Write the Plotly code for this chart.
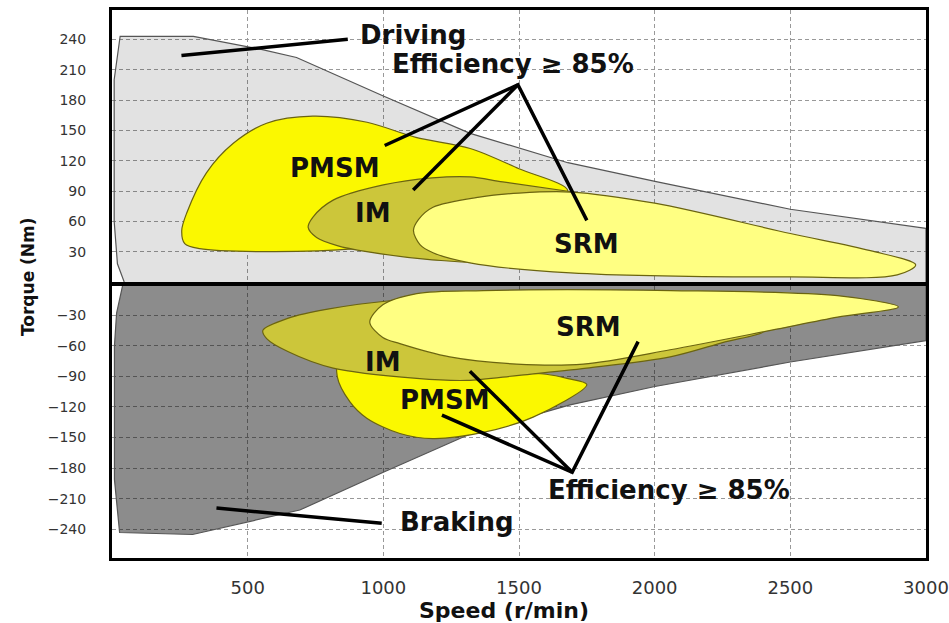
import plotly.graph_objects as go

# ---------------- data ----------------
x_ticks = [500, 1000, 1500, 2000, 2500, 3000]
y_ticks_drive = [30, 60, 90, 120, 150, 180, 210, 240]
y_ticks_brake = [-30, -60, -90, -120, -150, -180, -210, -240]

# Driving envelope (speed r/min, torque Nm)
drive_speed = [45, 20, 8, 8, 30, 300, 550, 680, 1000, 1320, 1680, 2010, 2500, 3000, 3000]
drive_torque = [0, 18, 60, 200, 243, 243, 230, 222, 184, 147, 118, 99, 72, 53, 0]

# Driving efficiency >= 85% regions
pmsm_d_speed = [1680, 1500, 1320, 1120, 940, 740, 570, 446, 348, 275, 257, 268, 323, 570, 900, 1300, 1680]
pmsm_d_torque = [90, 112, 132, 143, 158, 164, 157, 137, 108, 68, 51, 38, 33, 30, 33, 48, 90]

im_d_speed = [1700, 1440, 1320, 1180, 1000, 815, 740, 723, 754, 830, 939, 1180, 1400, 1700]
im_d_torque = [89, 99, 104, 103, 96, 81, 64, 54, 44, 36, 30, 22, 20, 40]

srm_d_speed = [2962, 2795, 2500, 2000, 1690, 1500, 1354, 1183, 1130, 1111, 1135, 1183, 1319, 1690, 2500, 2894, 2962]
srm_d_torque = [17, 31, 48, 78, 89, 88, 84, 74, 62, 51, 37, 29, 19, 9, 5, 7, 17]

# Braking envelope
brake_speed = [40, 17, 9, 9, 28, 297, 692, 1000, 1332, 1688, 2001, 2500, 3000, 3000]
brake_torque = [0, -28, -60, -191, -243, -245, -221, -184, -145, -118, -100, -76, -55, 0]

# Braking efficiency >= 85% regions
im_b_speed = [556, 650, 800, 1024, 1300, 1800, 2400, 2250, 2057, 1750, 1500, 1308, 1123, 815, 650, 570, 556]
im_b_torque = [-45, -33, -24, -16, -12, -25, -46, -57, -71, -82, -89, -94, -92, -82, -66, -53, -45]

pmsm_b_speed = [1750, 1552, 1368, 1183, 1061, 939, 877, 830, 840, 1000, 1300, 1600, 1677, 1750]
pmsm_b_torque = [-98, -130, -145, -151, -146, -131, -115, -90, -70, -75, -85, -88, -92, -98]

srm_b_speed = [2898, 2674, 2059, 1368, 1123, 998, 950, 998, 1061, 1245, 1491, 1737, 2057, 2427, 2674, 2898]
srm_b_torque = [-22, -11, -6, -6, -9, -20, -37, -52, -58, -71, -78, -78, -64, -45, -32, -22]

# Labels and leader lines
drive_labels = ["Driving", "Efficiency ≥ 85%", "PMSM", "IM", "SRM"]
drive_label_x = [1109, 1477, 821, 963, 1750]
drive_label_y = [244, 216, 113, 68, 38]
drive_leader_x = [[869, 256], [1005, 1496, 1750], [1110, 1496]]
drive_leader_y = [[240, 224], [135, 195, 61], [91, 195]]

brake_labels = ["Braking", "Efficiency ≥ 85%", "PMSM", "IM", "SRM"]
brake_label_x = [1271, 2054, 1227, 999, 1755]
brake_label_y = [-233, -201, -113, -76, -42]
brake_leader_x = [[994, 385], [1216, 1696, 1939], [1319, 1696]]
brake_leader_y = [[-234, -219], [-128, -184, -56], [-85, -184]]

# ---------------- styles ----------------
LIGHT_GRAY = "rgba(0,0,0,0.115)"
DARK_GRAY = "rgba(0,0,0,0.45)"
YELLOW = "#fbf800"
OLIVE = "#ccc63a"
PALE = "#ffff82"
EDGE = "#6b6410"
LABEL_FONT = dict(family="DejaVu Sans", size=26, color="#111111")

fig = go.Figure()


def region(xs, ys, color, xa, ya, edge=EDGE, spline=True):
    fig.add_trace(go.Scatter(
        x=xs, y=ys, mode="lines", fill="toself", fillcolor=color,
        line=dict(color=edge, width=1.2, shape="spline" if spline else "linear", smoothing=0.9),
        xaxis=xa, yaxis=ya, hoverinfo="skip", showlegend=False))


# driving panel
region(drive_speed, drive_torque, LIGHT_GRAY, "x", "y", edge="#555555", spline=False)
region(pmsm_d_speed, pmsm_d_torque, YELLOW, "x", "y")
region(im_d_speed, im_d_torque, OLIVE, "x", "y")
region(srm_d_speed, srm_d_torque, PALE, "x", "y")
# braking panel
region(brake_speed, brake_torque, DARK_GRAY, "x2", "y2", edge="#555555", spline=False)
region(pmsm_b_speed, pmsm_b_torque, YELLOW, "x2", "y2")
region(im_b_speed, im_b_torque, OLIVE, "x2", "y2")
region(srm_b_speed, srm_b_torque, PALE, "x2", "y2")

for lx, ly in zip(drive_leader_x, drive_leader_y):
    fig.add_trace(go.Scatter(x=lx, y=ly, mode="lines", line=dict(color="black", width=3.5),
                             xaxis="x", yaxis="y", hoverinfo="skip", showlegend=False))
for lx, ly in zip(brake_leader_x, brake_leader_y):
    fig.add_trace(go.Scatter(x=lx, y=ly, mode="lines", line=dict(color="black", width=3.5),
                             xaxis="x2", yaxis="y2", hoverinfo="skip", showlegend=False))

annotations = []
for t, x, y in zip(drive_labels, drive_label_x, drive_label_y):
    annotations.append(dict(text="<b>%s</b>" % t, x=x, y=y, xref="x", yref="y",
                            showarrow=False, font=LABEL_FONT, xanchor="center", yanchor="middle"))
for t, x, y in zip(brake_labels, brake_label_x, brake_label_y):
    annotations.append(dict(text="<b>%s</b>" % t, x=x, y=y, xref="x2", yref="y2",
                            showarrow=False, font=LABEL_FONT, xanchor="center", yanchor="middle"))
annotations.append(dict(text="<b>Torque (Nm)</b>", x=-0.103, y=0.513, xref="paper", yref="paper",
                        textangle=-90, showarrow=False, xanchor="center", yanchor="middle",
                        font=dict(family="DejaVu Sans", size=17, color="#111111")))
annotations.append(dict(text="<b>Speed (r/min)</b>", x=0.4816, y=-0.095, xref="paper", yref="paper",
                        showarrow=False, xanchor="center", yanchor="middle",
                        font=dict(family="DejaVu Sans", size=22, color="#111111")))

grid = dict(showgrid=True, gridcolor="#999999", griddash="4px,3px", gridwidth=1, zeroline=False,
            showline=True, linecolor="black", linewidth=3, mirror=True, ticks="", automargin=False)

fig.update_layout(
    width=949, height=623,
    margin=dict(l=112, r=23, t=10, b=65, autoexpand=False),
    paper_bgcolor="white", plot_bgcolor="white",
    showlegend=False,
    annotations=annotations,
    xaxis=dict(domain=[0, 1], anchor="y", range=[0, 3000], tickvals=x_ticks,
               showticklabels=False, **grid),
    xaxis2=dict(domain=[0, 1], anchor="y2", range=[0, 3000], tickvals=x_ticks, matches="x",
                tickfont=dict(family="DejaVu Sans", size=18, color="#333333"),
                ticklabelstandoff=11, **grid),
    yaxis=dict(domain=[0.5036, 1], anchor="x", range=[0, 269], tickvals=y_ticks_drive,
               tickfont=dict(family="DejaVu Sans", size=14, color="#333333"),
               ticklabelstandoff=20, **grid),
    yaxis2=dict(domain=[0, 0.4964], anchor="x2", range=[-268, -1.5], tickvals=y_ticks_brake,
                tickfont=dict(family="DejaVu Sans", size=14, color="#333333"),
                ticklabelstandoff=20, **grid),
)

fig.write_html("out.html", config={"displayModeBar": False},
               post_script="document.body.style.margin='0px';document.body.style.overflow='hidden';")
